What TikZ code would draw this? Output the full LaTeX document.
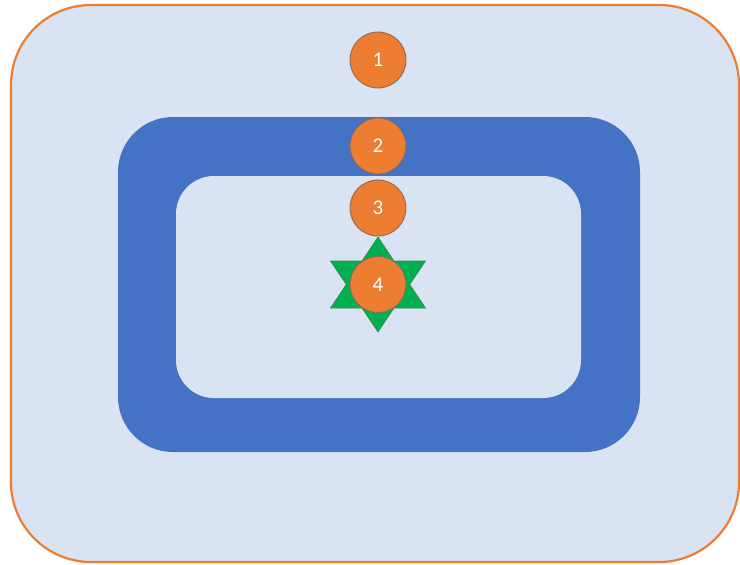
\documentclass[tikz,border=0pt]{standalone}
\usepackage{fontspec}
\setmainfont{Carlito}
\usetikzlibrary{positioning}
\definecolor{paleblue}{HTML}{DAE3F3}
\definecolor{ringblue}{HTML}{4472C4}
\definecolor{accent}{HTML}{ED7D31}
\definecolor{rimbrown}{HTML}{8C6A55}
\definecolor{stargreen}{HTML}{00B050}
\definecolor{stardark}{HTML}{2E8B4A}

\begin{document}
\begin{tikzpicture}
[   x=1pt,y=-1pt,
    area/.style={rectangle,rounded corners=#1,inner sep=0pt},
    cnode/.style={draw=rimbrown,line width=0.9pt,fill=accent,circle,minimum size=56pt,inner sep=0pt,
                  text=white,font=\fontsize{21}{21}\selectfont},
]
    \useasboundingbox (0,0) rectangle (740,565);
    % nested areas
    \node[area=80,draw=accent,line width=2.2pt,fill=paleblue,minimum width=728pt,minimum height=557pt] (outer) at (375,283.5) {};
    \node[area=55,fill=ringblue,minimum width=522pt,minimum height=335pt] (ring) at (379,284.5) {};
    \node[area=38,fill=paleblue,minimum width=405pt,minimum height=222pt] (inner) at (378.5,287) {};
    % star behind circle 4
    \coordinate (s) at (378,284.5);
    \draw[fill=stargreen,draw=stardark,line width=0.6pt]
        ([shift={(0,-47.5)}]s) -- ([shift={(47.5,23.5)}]s) -- ([shift={(-47.5,23.5)}]s) -- cycle;
    \draw[fill=stargreen,draw=stardark,line width=0.6pt]
        ([shift={(0,47.5)}]s) -- ([shift={(47.5,-23.5)}]s) -- ([shift={(-47.5,-23.5)}]s) -- cycle;
    \fill[stargreen] ([shift={(-30,-23)}]s) -- ([shift={(30,-23)}]s) -- ([shift={(30,23)}]s) -- ([shift={(-30,23)}]s) -- cycle;
    % numbered circles
    \foreach \n/\y in {1/60,2/146,3/208,4/284.5}
    {   \node[cnode] (c-\n) at (378,\y) {\n};
    }
\end{tikzpicture}
\end{document}
